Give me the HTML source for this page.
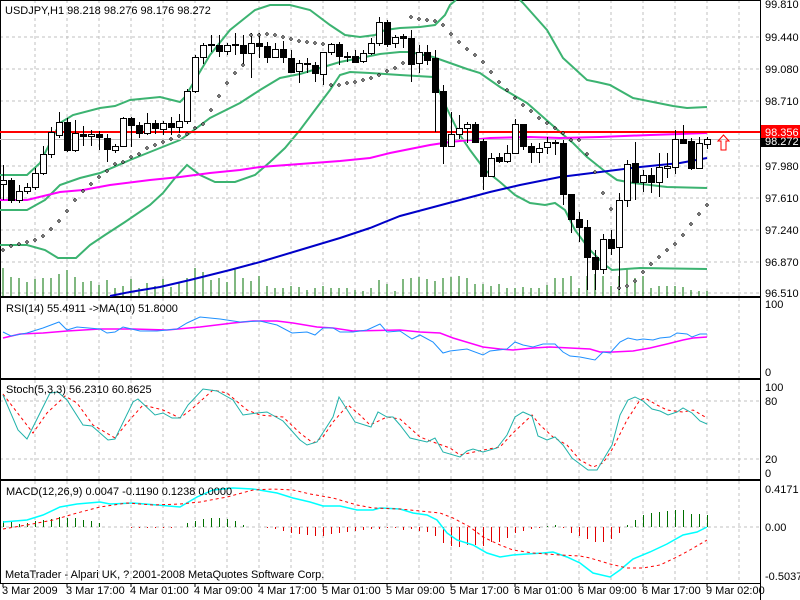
<!DOCTYPE html>
<html><head><meta charset="utf-8"><style>
body{margin:0;background:#fff;width:800px;height:600px;overflow:hidden}
svg{display:block;font-family:"Liberation Sans",sans-serif;font-size:11px}
</style></head><body>
<svg id="s" width="800" height="600" xmlns="http://www.w3.org/2000/svg">
<rect width="800" height="600" fill="#fff"/>
<g id="grid"></g>
<g id="plot"></g>
<g fill="#000">
<text x="5" y="14">USDJPY,H1  98.218 98.276 98.176 98.272</text>
<text x="6" y="312">RSI(14) 55.4911  -&gt;MA(10) 51.8000</text>
<text x="6" y="393">Stoch(5,3,3) 56.2310 60.8625</text>
<text x="6" y="495">MACD(12,26,9) 0.0047 -0.1190 0.1238 0.0000</text>
<text x="5" y="578">MetaTrader - Alpari UK, ? 2001-2008 MetaQuotes Software Corp.</text>
<text x="765" y="8">99.810</text>
<text x="765" y="41">99.440</text>
<text x="765" y="73">99.080</text>
<text x="765" y="105">98.710</text>
<text x="765" y="170">97.980</text>
<text x="765" y="202">97.610</text>
<text x="765" y="234">97.240</text>
<text x="765" y="266">96.870</text>
<text x="765" y="297">96.510</text>
<text x="765" y="308">100</text>
<text x="765" y="376">0</text>
<text x="765" y="391">100</text>
<text x="765" y="405">80</text>
<text x="765" y="463">20</text>
<text x="765" y="477">0</text>
<text x="765" y="493">0.4171</text>
<text x="765" y="531">0.00</text>
<text x="765" y="580">-0.5037</text>
</g>
<rect x="761" y="125" width="39" height="13" fill="#f00"/>
<rect x="761" y="138" width="39" height="9" fill="#000"/>
<text x="765" y="145" fill="#fff">98.272</text>
<text x="765" y="136" fill="#fff">98.356</text>
<path d="M718,141 L723.5,135 L729,141 L726,141 L726,150 L721,150 L721,141 Z" fill="none" stroke="#f00" stroke-width="1"/>
<g id="tl" fill="#000"></g>
</svg>
<script>
var NS="http://www.w3.org/2000/svg";
function el(p,t,a){var e=document.createElementNS(NS,t);for(var k in a)e.setAttribute(k,a[k]);document.getElementById(p).appendChild(e);return e;}
function pl(p,pts,c,w,d){var s=pts.map(function(q){return q[0]+","+q[1]}).join(" ");var a={points:s,fill:"none",stroke:c,"stroke-width":w};if(d)a["stroke-dasharray"]=d;el(p,"polyline",a);}
// grid
for(var x=35;x<760;x+=32){[[0,296],[298,378],[380,479],[481,583]].forEach(function(r){el("grid","line",{x1:x,y1:r[0],x2:x,y2:r[1],stroke:"#c0c0c0","stroke-dasharray":"3,3"});});}
[37,69,101,166,198,230,262,293].forEach(function(y){el("grid","line",{x1:0,y1:y,x2:760,y2:y,stroke:"#c0c0c0","stroke-dasharray":"3,3"});});
[401,459,527].forEach(function(y){el("grid","line",{x1:0,y1:y,x2:760,y2:y,stroke:"#c0c0c0","stroke-dasharray":"3,3"});});
// panel borders
[[0,296],[297,378],[379,479],[480,583]].forEach(function(r){el("grid","rect",{x:0.5,y:r[0]+0.5,width:760,height:r[1]-r[0],fill:"none",stroke:"#000"});});
el("grid","line",{x1:760.5,y1:0,x2:760.5,y2:600,stroke:"#000"});
// volume
var vh=[28,19,18,14,17,18,18,22,26,19,14,15,11,16,8,10,17,8,13,10,17,9,14,18,28,24,16,18,14,28,18,15,20,10,8,8,10,9,6,8,10,8,8,8,6,5,8,16,12,5,17,18,19,17,15,18,19,20,18,12,12,10,12,8,8,9,8,8,11,18,18,20,8,20,22,20,10,20,28,18,20,8,10,10,10,9,6,5,5];
for(var i=0;i<89;i++){var x=3+8*i;el("plot","line",{x1:x,y1:296,x2:x,y2:296-vh[i],stroke:"#007000"});}
// bands
pl("plot",[[0,175],[27,175],[40,163],[60,123],[73,115],[100,108],[115,106],[130,100],[160,97],[172,100],[180,102],[185,97],[195,80],[210,55],[230,30],[255,10],[270,5],[290,5],[310,10],[330,25],[345,35],[360,37],[375,35],[385,30],[400,28],[420,27],[435,25],[445,15],[450,5],[456,0]],"#3cb371",2);
pl("plot",[[520,0],[523,3],[547,30],[563,58],[587,80],[597,82],[610,85],[633,98],[653,102],[673,106],[687,108],[707,107]],"#3cb371",2);
pl("plot",[[0,210],[27,210],[45,200],[60,185],[80,178],[100,173],[130,160],[160,148],[180,140],[190,133],[210,118],[240,103],[260,90],[280,78],[300,74],[320,68],[340,62],[360,58],[380,54],[400,52],[410,52],[433,57],[450,63],[467,69],[480,73],[500,87],[510,93],[527,103],[543,117],[560,132],[573,143],[587,157],[607,173],[617,180],[633,183],[667,187],[707,188]],"#3cb371",2);
pl("plot",[[0,245],[27,245],[45,250],[58,258],[76,258],[90,245],[105,235],[125,222],[150,205],[163,193],[175,178],[187,165],[200,175],[215,182],[235,182],[255,175],[270,162],[285,148],[300,130],[315,110],[330,90],[340,75],[350,72],[370,73],[400,75],[433,77],[443,100],[450,115],[460,135],[470,150],[485,170],[500,182],[515,195],[530,203],[545,205],[555,203],[565,210],[575,230],[590,250],[605,265],[612,270],[640,268],[707,269]],"#3cb371",2);
// MAs
pl("plot",[[0,200],[27,200],[60,192],[83,190],[110,185],[150,180],[180,177],[210,173],[240,170],[260,167],[300,164],[340,161],[370,158],[390,153],[400,151],[430,145],[450,142],[490,138],[530,137],[560,138],[600,137],[650,135],[680,134],[707,133]],"#ff00ff",2);
pl("plot",[[110,296],[130,292],[160,287],[190,280],[230,270],[260,262],[300,250],[340,238],[370,228],[400,216],[430,208],[460,200],[490,192],[520,185],[560,177],[600,172],[640,167],[680,163],[707,158]],"#0000c8",2);
el("plot","line",{x1:0,y1:139.5,x2:760,y2:139.5,stroke:"#c0c0c0"});
el("plot","line",{x1:0,y1:132,x2:760,y2:132,stroke:"#f00","stroke-width":2});
// candles [open,close,high,low] in px (top,bottom,wickTop,wickBot,white)
var C=[[180,184,165,200,1],[180,200,178,203,0],[191,200,185,203,1],[187,191,183,194,1],[173,187,168,190,1],[154,173,146,175,1],[132,154,127,158,1],[122,135,112,138,1],[122,150,118,152,0],[133,150,120,152,1],[134,136,126,146,0],[134,136,130,146,1],[134,137,131,150,0],[138,149,134,162,0],[146,150,144,153,1],[118,146,117,147,1],[118,125,117,147,0],[125,133,122,138,0],[123,133,113,135,1],[123,128,120,134,0],[123,129,121,135,1],[123,127,117,135,0],[121,127,114,133,1],[91,121,89,124,1],[57,91,55,93,1],[45,57,43,64,1],[44,45,35,52,1],[45,51,35,57,0],[45,51,43,55,1],[44,45,33,55,0],[45,53,35,65,0],[43,53,33,78,1],[43,46,33,58,0],[46,57,42,63,0],[49,57,43,58,1],[49,57,41,63,0],[58,72,50,73,0],[63,71,60,83,1],[63,64,58,73,0],[65,73,62,82,0],[52,74,52,85,1],[44,52,43,55,1],[44,56,42,65,0],[56,57,52,62,0],[56,62,50,63,0],[53,61,50,63,1],[43,53,38,55,1],[22,43,17,46,1],[22,44,20,47,0],[37,43,35,48,1],[36,38,34,48,0],[38,64,30,82,0],[52,63,45,73,1],[52,60,45,65,0],[58,92,50,132,0],[91,146,85,164,0],[134,146,112,146,1],[128,134,115,139,1],[124,128,122,143,1],[124,142,122,143,0],[141,176,139,190,0],[158,176,153,177,1],[157,161,153,163,0],[153,161,145,163,1],[124,153,119,154,1],[124,146,124,150,0],[146,152,143,163,0],[148,152,143,163,1],[142,147,137,154,1],[142,143,140,155,0],[143,194,140,205,0],[194,219,194,233,0],[219,227,212,242,0],[227,257,220,290,0],[257,269,250,290,0],[239,269,234,274,1],[239,248,230,255,0],[200,247,193,290,1],[164,200,160,207,1],[163,182,142,200,0],[175,182,170,192,1],[175,182,168,193,0],[167,182,153,197,1],[166,168,153,178,1],[139,167,130,174,1],[139,143,125,143,0],[141,168,138,170,0],[143,168,137,169,1],[139,144,137,149,1]];
C.forEach(function(c,i){var x=3+8*i;el("plot","line",{x1:x+.5,y1:c[2],x2:x+.5,y2:c[3],stroke:"#000"});var h=Math.max(c[1]-c[0],1);el("plot","rect",{x:x-2.5,y:c[0]+.5,width:6,height:h,fill:c[4]?"#fff":"#000",stroke:"#000"});});
// SAR
var S=[[3,250],[11,246],[19,244],[27,242],[35,240],[43,236],[51,229],[59,221],[67,211],[75,200],[83,191],[91,184],[99,177],[107,171],[115,164],[123,162],[131,157],[139,154],[147,148],[155,145],[163,142],[171,139],[179,136],[187,134],[195,128],[203,124],[211,110],[219,96],[227,83],[235,73],[243,65],[251,35],[259,35],[267,34],[275,35],[283,37],[291,39],[299,41],[307,42],[315,43],[323,44],[331,85],[339,85],[347,83],[355,82],[363,80],[371,78],[379,75],[387,71],[395,68],[403,63],[411,17],[419,19],[427,20],[435,21],[443,25],[451,34],[459,42],[467,49],[475,55],[483,62],[491,72],[499,82],[507,90],[515,98],[523,105],[531,111],[539,118],[547,123],[555,128],[563,133],[571,140],[579,140],[587,154],[595,172],[603,193],[611,209],[619,288],[627,286],[635,281],[643,272],[651,264],[659,257],[667,250],[675,244],[683,235],[691,224],[699,214],[707,205]];
S.forEach(function(p){el("plot","path",{d:"M"+p[0]+","+(p[1]-1.5)+"l1.5,1.5l-1.5,1.5l-1.5,-1.5z",fill:"#fff",stroke:"#000","stroke-width":0.8});});
// RSI
pl("plot",[[3,338],[20,334],[43,333],[67,331],[100,329],[133,329],[167,330],[200,327],[233,323],[253,321],[277,321],[293,323],[317,327],[333,328],[353,331],[400,330],[420,332],[440,333],[453,338],[483,347],[500,349],[513,350],[533,348],[550,347],[570,348],[590,349],[600,352],[613,352],[633,351],[650,348],[667,344],[683,340],[693,338],[707,337]],"#ff00ff",1.5);
pl("plot",[[3,332],[11,336],[27,333],[43,328],[59,322],[67,330],[77,327],[100,329],[107,333],[115,332],[123,327],[140,331],[157,331],[177,329],[187,323],[200,317],[220,319],[240,322],[260,321],[277,325],[292,333],[307,332],[315,335],[323,328],[333,328],[340,332],[353,332],[367,330],[380,324],[387,332],[400,331],[412,339],[420,335],[433,342],[443,353],[450,351],[467,349],[483,355],[490,351],[507,349],[515,342],[523,345],[533,347],[543,344],[555,344],[563,352],[570,356],[580,357],[595,360],[603,352],[610,353],[620,342],[628,338],[637,340],[643,339],[653,340],[660,338],[670,337],[677,333],[687,334],[692,337],[700,334],[707,334]],"#1e90ff",1);
// Stoch
pl("plot",[[3,394],[13,407],[33,433],[47,413],[65,396],[77,403],[93,425],[115,438],[127,423],[143,405],[163,410],[180,418],[193,408],[213,390],[227,393],[247,410],[260,415],[283,417],[300,433],[313,443],[323,437],[333,422],[348,405],[360,415],[370,425],[387,417],[400,419],[420,437],[433,442],[450,448],[460,455],[483,450],[500,447],[513,433],[532,415],[540,425],[553,437],[567,445],[580,460],[593,467],[603,463],[613,448],[627,420],[640,400],[645,398],[657,405],[667,410],[683,412],[693,410],[707,418]],"#f00",1,"3,3");
pl("plot",[[3,395],[18,430],[27,439],[50,393],[58,392],[67,400],[83,425],[92,426],[108,440],[115,439],[133,402],[138,399],[155,415],[163,413],[172,418],[180,418],[188,405],[203,389],[217,391],[233,400],[243,415],[257,413],[267,412],[283,421],[300,440],[307,445],[317,442],[333,417],[339,397],[355,422],[371,427],[378,412],[387,417],[393,417],[400,425],[410,438],[427,442],[435,438],[443,452],[460,457],[467,451],[473,449],[483,452],[497,448],[507,435],[515,417],[523,412],[532,416],[538,436],[547,440],[555,437],[563,445],[572,458],[588,470],[597,470],[612,445],[620,415],[628,400],[635,397],[643,401],[652,409],[660,411],[668,415],[677,412],[683,408],[692,413],[700,421],[707,424]],"#20b2aa",1);
// MACD hist
var M=[521,522,524,523,521,520,519,517,518,518,520,521,523,527,527,527,528,528,528,528,528,528,527,523,521,519,518,518,519,521,525,527,527,528,529,531,533,534,535,536,536,534,533,532,531,530,529,529,528,528,530,529,531,532,536,543,546,547,545,545,546,542,542,538,533,531,529,528,526,525,528,533,536,539,542,542,539,533,525,520,515,513,512,511,510,510,514,514,515];
M.forEach(function(v,i){var x=3+8*i+.5;el("plot","line",{x1:x,y1:527,x2:x,y2:v,stroke:v<527?"#007000":"#e00000"});});
pl("plot",[[3,522],[27,520],[43,515],[60,507],[77,504],[100,502],[110,504],[133,503],[157,505],[180,507],[197,497],[213,490],[233,488],[253,489],[277,493],[293,498],[310,502],[323,506],[340,506],[357,510],[373,510],[380,508],[400,509],[413,513],[427,515],[437,520],[447,533],[457,540],[473,545],[487,553],[500,557],[513,555],[527,554],[543,553],[553,552],[567,557],[580,563],[593,573],[610,577],[620,570],[633,559],[650,552],[667,544],[683,535],[697,532],[707,527]],"#00ffff",1.5);
pl("plot",[[3,529],[27,525],[53,520],[77,513],[100,507],[127,503],[153,505],[180,504],[200,502],[227,497],[253,490],[273,489],[293,490],[310,494],[333,498],[357,505],[373,508],[400,509],[420,511],[440,513],[453,518],[470,527],[483,537],[500,545],[513,550],[533,553],[560,555],[580,556],[590,558],[610,564],[627,568],[643,568],[660,565],[677,557],[690,550],[707,540]],"#f00",1,"3,3");
// time ticks
for(var k=0;k<12;k++){var x=3+64*k;el("plot","line",{x1:x,y1:583,x2:x,y2:587,stroke:"#000"});}
</script>
<svg width="0" height="0"></svg>
<div style="position:absolute;left:0;top:585px;font-family:'Liberation Sans',sans-serif;font-size:11px;white-space:nowrap">
<span style="position:absolute;left:2px">3 Mar 2009</span>
<span style="position:absolute;left:66px">3 Mar 17:00</span>
<span style="position:absolute;left:130px">4 Mar 01:00</span>
<span style="position:absolute;left:194px">4 Mar 09:00</span>
<span style="position:absolute;left:258px">4 Mar 17:00</span>
<span style="position:absolute;left:322px">5 Mar 01:00</span>
<span style="position:absolute;left:386px">5 Mar 09:00</span>
<span style="position:absolute;left:450px">5 Mar 17:00</span>
<span style="position:absolute;left:514px">6 Mar 01:00</span>
<span style="position:absolute;left:578px">6 Mar 09:00</span>
<span style="position:absolute;left:642px">6 Mar 17:00</span>
<span style="position:absolute;left:706px">9 Mar 02:00</span>
</div>
</body></html>
